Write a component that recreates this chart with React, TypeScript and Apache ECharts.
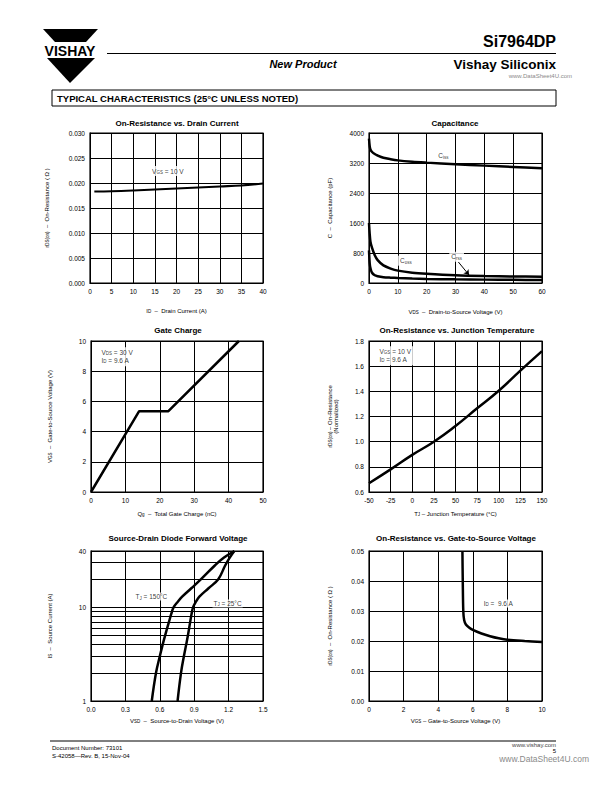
import React, { useEffect, useRef } from 'react';
import * as echarts from 'echarts';

const FONT = '"Liberation Sans", Arial, Helvetica, sans-serif';

// ---- Chart 1: On-Resistance vs. Drain Current
const idX = [1, 5, 10, 15, 20, 25, 30, 35, 40];
const rdsVsId = [0.0183, 0.01835, 0.0185, 0.0187, 0.0189, 0.0191, 0.0193, 0.0195, 0.0199];

// ---- Chart 2: Capacitance
const vdsX = [0, 0.25, 0.5, 1, 2, 3, 5, 7.5, 10, 15, 20, 30, 40, 50, 60];
const ciss = [3850, 3640, 3560, 3500, 3440, 3400, 3340, 3300, 3270, 3235, 3210, 3165, 3130, 3095, 3060];
const coss = [1600, 1300, 1100, 950, 740, 610, 470, 385, 330, 275, 245, 205, 185, 175, 168];
const crss = [870, 520, 400, 280, 205, 180, 155, 142, 133, 118, 108, 97, 90, 85, 80];

// ---- Chart 3: Gate Charge
const qgX = [0, 14, 22.5, 43];
const vgsQ = [0, 5.35, 5.35, 10];

// ---- Chart 4: On-Resistance vs. Junction Temperature
const tjX = [-50, -25, 0, 25, 50, 75, 100, 125, 150];
const rNorm = [0.67, 0.78, 0.895, 1.0, 1.125, 1.265, 1.405, 1.565, 1.72];

// ---- Chart 5: Source-Drain Diode Forward Voltage
const isY = [1, 2, 3, 4, 5, 7, 8.5, 10, 11.5, 13, 16, 20, 28, 34, 40];
const vsd150 = [0.53, 0.567, 0.6, 0.625, 0.646, 0.68, 0.70, 0.72, 0.757, 0.795, 0.875, 0.96, 1.08, 1.16, 1.25];
const vsd25 = [0.755, 0.785, 0.81, 0.83, 0.845, 0.865, 0.877, 0.89, 0.915, 0.945, 1.025, 1.11, 1.17, 1.21, 1.25];
const logMinorLines = [2, 3, 4, 5, 6, 7, 8, 9, 20, 30];

// ---- Chart 6: On-Resistance vs. Gate-to-Source Voltage
const vgsX = [5.4, 5.42, 5.45, 5.5, 5.6, 5.8, 6.0, 6.5, 7.0, 7.5, 8.0, 9.0, 10.0];
const rdsVsVgs = [0.05, 0.04, 0.03, 0.027, 0.0255, 0.0244, 0.0237, 0.0225, 0.0216, 0.0209, 0.0204, 0.02, 0.0197];

const pairs = (xs: number[], ys: number[]) => xs.map((x, i) => [x, ys[i]]);

const SUB = { fontSize: 4.5, verticalAlign: 'bottom', fontFamily: FONT, color: '#000' };

const grids = [
  { left: 90, top: 133, width: 173, height: 150 },
  { left: 369, top: 133, width: 173, height: 150 },
  { left: 91, top: 341, width: 172, height: 151 },
  { left: 369, top: 341, width: 173, height: 151 },
  { left: 91, top: 551, width: 172, height: 150 },
  { left: 369, top: 551, width: 173, height: 150 },
].map((g) => ({ ...g, show: true, borderColor: '#000', borderWidth: 1.2, backgroundColor: 'transparent' }));

const axisCommon = {
  axisLine: { show: true, lineStyle: { color: '#000', width: 1 } },
  axisTick: { show: false },
  splitLine: { show: true, lineStyle: { color: '#000', width: 1 } },
  nameLocation: 'middle',
  nameTextStyle: { fontFamily: FONT, fontSize: 6, color: '#000', rich: { s: SUB } },
};

function xAx(gi: number, min: number, max: number, interval: number, name: string, nameGap: number, dec?: number) {
  return {
    ...axisCommon,
    type: 'value',
    gridIndex: gi,
    min,
    max,
    interval,
    name,
    nameGap,
    axisLabel: {
      color: '#000', fontSize: 6.5, fontFamily: FONT, margin: 5,
      formatter: (v: number) => (dec !== undefined ? v.toFixed(dec) : String(Math.round(v))),
    },
  };
}

function yAx(gi: number, min: number, max: number, interval: number, name: string, nameGap: number, dec?: number) {
  return {
    ...axisCommon,
    type: 'value',
    gridIndex: gi,
    min,
    max,
    interval,
    name,
    nameGap,
    nameRotate: 90,
    axisLabel: {
      color: '#000', fontSize: 6.5, fontFamily: FONT, margin: 5,
      formatter: (v: number) => (dec !== undefined ? v.toFixed(dec) : String(Math.round(v))),
    },
  };
}

const curve = (gi: number, data: number[][], smooth: boolean | number = 0.4, width = 2.5) => ({
  type: 'line',
  xAxisIndex: gi,
  yAxisIndex: gi,
  data,
  smooth,
  symbol: 'none',
  showSymbol: false,
  silent: true,
  lineStyle: { color: '#000', width },
  z: 3,
});

const note = (gi: number, at: number[], text: string, pos: 'center' | 'left', pad: number[] = [1, 2]) => ({
  type: 'scatter',
  xAxisIndex: gi,
  yAxisIndex: gi,
  data: [at],
  symbolSize: 1,
  itemStyle: { color: 'rgba(0,0,0,0)' },
  silent: true,
  z: 6,
  label: {
    show: true,
    position: pos === 'center' ? 'inside' : [0, 0],
    align: pos === 'center' ? 'center' : 'left',
    verticalAlign: pos === 'center' ? 'middle' : 'top',
    formatter: text,
    fontSize: 6.5,
    lineHeight: 8,
    fontFamily: FONT,
    color: '#000',
    backgroundColor: '#fff',
    padding: pad,
    rich: { s: SUB },
  },
});

const txt = (x: number, y: number, text: string, size: number, opts: any = {}) => ({
  type: 'text',
  x,
  y,
  silent: true,
  style: {
    text,
    fontSize: size,
    fontFamily: FONT,
    fill: '#000',
    align: 'left',
    verticalAlign: 'middle',
    ...opts,
  },
});

const titles = [
  [177, 123, 'On-Resistance vs. Drain Current'],
  [455, 123, 'Capacitance'],
  [178, 330, 'Gate Charge'],
  [457, 330, 'On-Resistance vs. Junction Temperature'],
  [178, 538, 'Source-Drain Diode Forward Voltage'],
  [456, 538, 'On-Resistance vs. Gate-to-Source Voltage'],
];

const graphicElements: any[] = [
  // Logo
  { type: 'polygon', silent: true, shape: { points: [[43, 29], [98, 29], [86, 42], [55, 42]] }, style: { fill: '#000' } },
  txt(70, 50.5, 'VISHAY', 14, { fontWeight: 'bold', align: 'center' }),
  { type: 'polygon', silent: true, shape: { points: [[47, 58], [95, 58], [70, 83]] }, style: { fill: '#000' } },
  // Header
  txt(556, 41, 'Si7964DP', 16, { fontWeight: 'bold', align: 'right' }),
  { type: 'line', silent: true, shape: { x1: 107, y1: 53.5, x2: 556, y2: 53.5 }, style: { stroke: '#000', lineWidth: 1 } },
  txt(303, 63.5, 'New Product', 11, { fontWeight: 'bold', fontStyle: 'italic', align: 'center' }),
  txt(556, 64, 'Vishay Siliconix', 13.5, { fontWeight: 'bold', align: 'right' }),
  txt(572, 75.5, 'www.DataSheet4U.com', 6, { align: 'right', fill: '#8a8a8a' }),
  { type: 'rect', silent: true, shape: { x: 52, y: 90, width: 504, height: 16 }, style: { fill: '#fff', stroke: '#000', lineWidth: 1 } },
  txt(57, 98.5, 'TYPICAL CHARACTERISTICS (25°C UNLESS NOTED)', 9.5, { fontWeight: 'bold' }),
  // Footer
  { type: 'line', silent: true, shape: { x1: 50, y1: 741, x2: 556, y2: 741 }, style: { stroke: '#000', lineWidth: 1 } },
  txt(52, 748, 'Document Number: 73101', 6),
  txt(52, 756, 'S-42058—Rev. B, 15-Nov-04', 6),
  txt(556, 744.5, 'www.vishay.com', 6, { align: 'right', fill: '#444' }),
  txt(556, 751, '5', 6, { align: 'right' }),
  txt(589, 759, 'www.DataSheet4U.com', 8.5, { align: 'right', fill: '#8a8a8a' }),
  ...titles.map(([x, y, t]) => txt(x as number, y as number, t as string, 8, { fontWeight: 'bold', align: 'center' })),
];

const option: any = {
  animation: false,
  backgroundColor: '#fff',
  textStyle: { fontFamily: FONT },
  grid: grids,
  xAxis: [
    xAx(0, 0, 40, 5, 'I{s|D}  –  Drain Current (A)', 25),
    xAx(1, 0, 60, 10, 'V{s|DS}  –  Drain-to-Source Voltage (V)', 26),
    xAx(2, 0, 50, 10, 'Q{s|g}  –  Total Gate Charge (nC)', 19),
    xAx(3, -50, 150, 25, 'T{s|J} – Junction Temperature (°C)', 19),
    xAx(4, 0, 1.5, 0.3, 'V{s|SD}  –  Source-to-Drain Voltage (V)', 17, 1),
    xAx(5, 0, 10, 2, 'V{s|GS} – Gate-to-Source Voltage (V)', 17),
  ],
  yAxis: [
    yAx(0, 0, 0.03, 0.005, 'r{s|DS(on)}  –  On-Resistance ( Ω )', 40, 3),
    yAx(1, 0, 4000, 800, 'C  –  Capacitance (pF)', 36),
    yAx(2, 0, 10, 2, 'V{s|GS}  –  Gate-to-Source Voltage (V)', 38),
    yAx(3, 0.6, 1.8, 0.2, 'r{s|DS(on)} – On-Resistance\n(Normalized)', 30, 1),
    {
      ...axisCommon,
      type: 'log',
      logBase: 10,
      gridIndex: 4,
      min: 1,
      max: 40,
      name: 'I{s|S}  –  Source Current (A)',
      nameGap: 38,
      nameRotate: 90,
      axisLabel: { color: '#000', fontSize: 6.5, fontFamily: FONT, margin: 5, formatter: (v: number) => String(Math.round(v)) },
    },
    yAx(5, 0, 0.05, 0.01, 'r{s|DS(on)}  –  On-Resistance ( Ω )', 36, 2),
  ],
  series: [
    curve(0, pairs(idX, rdsVsId), 0.4, 2.2),
    note(0, [18, 0.0224], 'V{s|GS} = 10 V', 'center'),

    curve(1, pairs(vdsX, ciss), 0.3),
    curve(1, pairs(vdsX, coss), 0.3),
    curve(1, pairs(vdsX, crss), 0.3),
    note(1, [25.8, 3395], 'C{s|iss}', 'center'),
    note(1, [12.8, 595], 'C{s|oss}', 'center'),
    {
      ...note(1, [30.4, 700], 'C{s|rss}', 'center'),
      markLine: {
        silent: true,
        symbol: ['none', 'arrow'],
        symbolSize: 5,
        label: { show: false },
        lineStyle: { color: '#000', width: 1, type: 'solid' },
        data: [[{ coord: [31, 560] }, { coord: [34.7, 213] }]],
      },
    },

    curve(2, pairs(qgX, vgsQ), false),
    note(2, [2.6, 9.55], 'V{s|DS} = 30 V\nI{s|D} = 9.6 A', 'left', [1, 10, 2, 2]),

    curve(3, pairs(tjX, rNorm), 0.5),
    note(3, [-39.6, 1.755], 'V{s|GS} = 10 V\nI{s|D} = 9.6 A', 'left', [1, 10, 2, 2]),

    {
      ...curve(4, pairs(vsd150, isY), 0.4),
      markLine: {
        silent: true,
        symbol: 'none',
        label: { show: false },
        lineStyle: { color: '#000', width: 1, type: 'solid' },
        data: logMinorLines.map((v) => ({ yAxis: v })),
      },
    },
    curve(4, pairs(vsd25, isY), 0.4),
    note(4, [0.384, 14.2], 'T{s|J} = 150°C', 'left', [0, 1]),
    note(4, [1.064, 12.0], 'T{s|J} = 25°C', 'left', [0, 1]),

    curve(5, pairs(vgsX, rdsVsVgs), 0.3),
    note(5, [6.6, 0.0337], 'I{s|D} =  9.6 A', 'left', [0, 1]),
  ],
  graphic: { elements: graphicElements },
};

export default function App() {
  const ref = useRef<HTMLDivElement>(null);
  useEffect(() => {
    if (!ref.current) return;
    const chart = echarts.init(ref.current, null, { renderer: 'svg', width: 612, height: 792 });
    chart.setOption(option);
    return () => chart.dispose();
  }, []);
  return (
    <div
      ref={ref}
      style={{ position: 'absolute', left: 0, top: 0, width: 612, height: 792, background: '#fff' }}
    />
  );
}
